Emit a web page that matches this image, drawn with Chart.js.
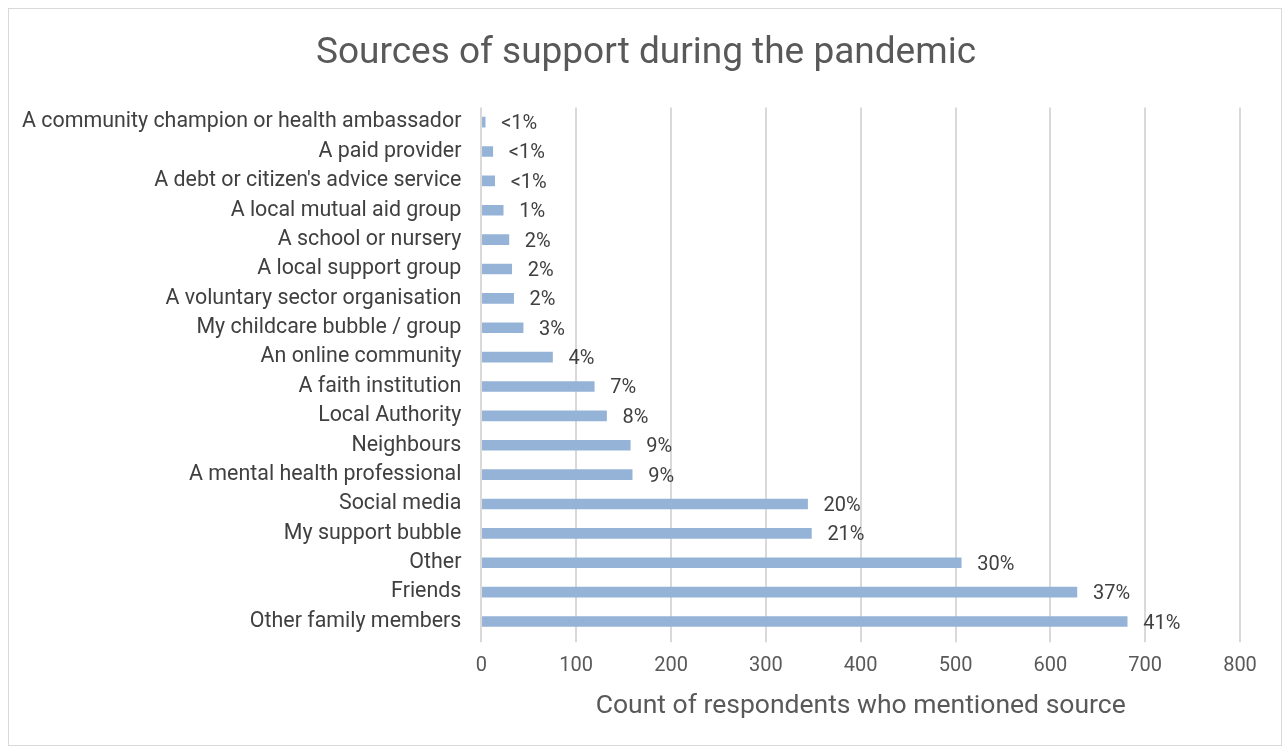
<!DOCTYPE html>
<html>
<head>
<meta charset="utf-8">
<title>Sources of support during the pandemic</title>
<script src="https://cdn.jsdelivr.net/npm/chart.js@4"></script>
<style>
  html, body { margin: 0; padding: 0; background: #fff; }
  #frame {
    position: absolute; left: 8px; top: 8px; width: 1274px; height: 738px;
    border: 1px solid #d9d9d9; box-sizing: border-box;
  }
  #wrap { position: absolute; left: 0; top: 0; width: 1284px; height: 749px; }
</style>
</head>
<body>
<div id="frame"></div>
<div id="wrap"><canvas id="myBarChart"></canvas></div>
<script>
// Categorías (de arriba a abajo)
const sources = [
  "A community champion or health ambassador",
  "A paid provider",
  "A debt or citizen's advice service",
  "A local mutual aid group",
  "A school or nursery",
  "A local support group",
  "A voluntary sector organisation",
  "My childcare bubble / group",
  "An online community",
  "A faith institution",
  "Local Authority",
  "Neighbours",
  "A mental health professional",
  "Social media",
  "My support bubble",
  "Other",
  "Friends",
  "Other family members"
];

// Conteos
const counts = [4, 12, 14, 23, 29, 32, 34, 44, 75, 119, 132, 157, 159, 344, 348, 506, 628, 681];

// Etiquetas de porcentaje
const percentLabels = ["<1%", "<1%", "<1%", "1%", "2%", "2%", "2%", "3%", "4%", "7%", "8%", "9%", "9%", "20%", "21%", "30%", "37%", "41%"];

// Marcas del eje X
const xTicks = [0, 100, 200, 300, 400, 500, 600, 700, 800];

// Plugin sencillo para las etiquetas de datos
const percentLabelPlugin = {
  id: "percentLabels",
  afterDatasetsDraw(chart) {
    const ctx = chart.ctx;
    const meta = chart.getDatasetMeta(0);
    ctx.save();
    ctx.font = "20px Roboto";
    ctx.fillStyle = "#404040";
    ctx.textAlign = "left";
    ctx.textBaseline = "middle";
    meta.data.forEach((bar, i) => {
      ctx.fillText(percentLabels[i], bar.x + 16, bar.y + 2);
    });
    ctx.restore();
  }
};

const barCtx = document.getElementById("myBarChart").getContext("2d");
new Chart(barCtx, {
  type: "bar",
  data: {
    labels: sources,
    datasets: [
      {
        data: counts,
        backgroundColor: "#95b3d7",
        barThickness: 10,
      },
    ],
  },
  options: {
    indexAxis: "y",
    responsive: true,
    maintainAspectRatio: false,
    animation: false,
    layout: { padding: { left: 10, right: 2, top: 14, bottom: 23 } },
    plugins: {
      legend: { display: false },
      tooltip: { enabled: false },
      title: {
        display: true,
        text: "Sources of support during the pandemic",
        color: "#595959",
        font: { family: "Roboto", size: 37, weight: "normal" },
        padding: { top: 18, bottom: 31 },
      },
    },
    scales: {
      x: {
        min: 0,
        max: 800,
        afterBuildTicks: (axis) => {
          axis.ticks = xTicks.map((v) => ({ value: v }));
        },
        afterFit: (axis) => {
          axis.paddingRight = 44;
        },
        grid: { color: "#d9d9d9", lineWidth: 2, tickLength: 6, drawTicks: true },
        border: { display: false },
        ticks: {
          color: "#595959",
          font: { family: "Roboto", size: 20 },
          padding: 12,
          maxRotation: 0,
        },
        title: {
          display: true,
          text: "Count of respondents who mentioned source",
          color: "#595959",
          font: { family: "Roboto", size: 26.5 },
          padding: { top: 0, bottom: 4 },
        },
      },
      y: {
        grid: { display: false },
        border: { display: false },
        ticks: {
          color: "#404040",
          font: { family: "Roboto", size: 21.4 },
          padding: 12,
          autoSkip: false,
        },
      },
    },
  },
  plugins: [percentLabelPlugin],
});
</script>
</body>
</html>
